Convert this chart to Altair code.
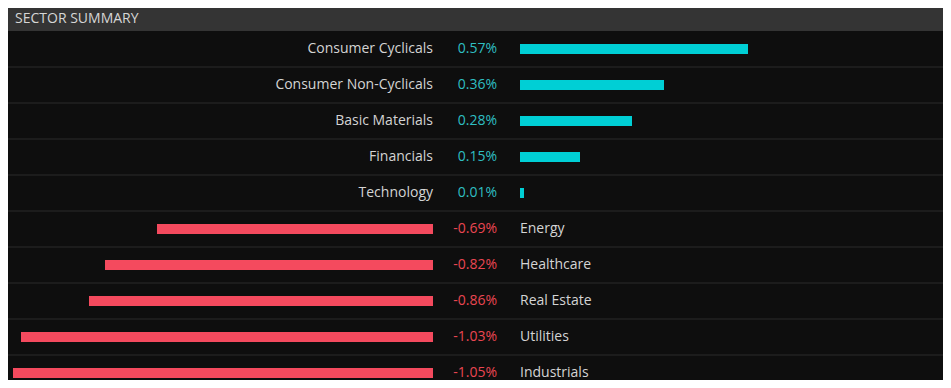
import altair as alt
import pandas as pd

sectors = ["Consumer Cyclicals", "Consumer Non-Cyclicals", "Basic Materials", "Financials",
           "Technology", "Energy", "Healthcare", "Real Estate", "Utilities", "Industrials"]
changes = [0.57, 0.36, 0.28, 0.15, 0.01, -0.69, -0.82, -0.86, -1.03, -1.05]
title_text = "SECTOR SUMMARY"

df = pd.DataFrame({"sector": sectors, "change": changes, "idx": list(range(len(sectors)))})

W, H = 935, 372
GAP = 0.2175  # gap between the negative origin and positive origin, in % units
FONT = "Open Sans"

base = alt.Chart(df).transform_calculate(
    x0=f"datum.change >= 0 ? {GAP} : 0",
    x1=f"datum.change >= 0 ? {GAP} + datum.change : datum.change",
    sign="datum.change >= 0 ? 'pos' : 'neg'",
    vtxt="replace(format(datum.change, '.2f'), '\u2212', '-') + '%'",
)

yrange = alt.Scale(range=[23, 383], paddingInner=0, paddingOuter=0)
yenc = alt.Y("sector:N", sort=sectors, scale=yrange, axis=None)
xscale = alt.Scale(domain=[-1.0625, 1.275], nice=False, zero=False)
color_scale = alt.Scale(domain=["pos", "neg"], range=["#00cfd5", "#f44a5e"])
text_scale = alt.Scale(domain=["pos", "neg"], range=["#2fbfc2", "#ea4652"])

header = alt.Chart(df).mark_rect(color="#343434").encode(
    x=alt.value(0), x2=alt.value(W), y=alt.value(0), y2=alt.value(23))

header_text = alt.Chart(df).transform_filter("datum.idx == 0").mark_text(
    align="left", baseline="middle", font=FONT, fontSize=14, color="#d6d6d6"
).encode(x=alt.value(7), y=alt.value(11), text=alt.value(title_text))

seps = base.transform_filter("datum.idx > 0").mark_rule(color="#2b2b2b", strokeWidth=1).encode(
    y=alt.Y("sector:N", sort=sectors, bandPosition=0, scale=yrange, axis=None),
    x=alt.value(0), x2=alt.value(W))

bars = base.mark_bar(size=10).encode(
    y=yenc,
    x=alt.X("x0:Q", scale=xscale, axis=None),
    x2="x1:Q",
    color=alt.Color("sign:N", scale=color_scale, legend=None))

pos_labels = base.transform_filter("datum.change >= 0").mark_text(
    align="right", baseline="middle", font=FONT, fontSize=14, color="#d4d4d4"
).encode(y=yenc, x=alt.value(425), text="sector:N")

neg_labels = base.transform_filter("datum.change < 0").mark_text(
    align="left", baseline="middle", font=FONT, fontSize=14, color="#d4d4d4"
).encode(y=yenc, x=alt.value(512), text="sector:N")

values = base.mark_text(align="right", baseline="middle", font=FONT, fontSize=14).encode(
    y=yenc, x=alt.value(489), text="vtxt:N",
    color=alt.Color("sign:N", scale=text_scale, legend=None))

chart = alt.layer(header, header_text, seps, bars, pos_labels, neg_labels, values).resolve_scale(
    color="independent"
).properties(
    width=W, height=H, background="#0e0e0e", padding=0,
    autosize=alt.AutoSizeParams(type="none")
).configure_view(stroke=None)

chart.save("out.html", embed_options={"renderer": "svg", "actions": False})
